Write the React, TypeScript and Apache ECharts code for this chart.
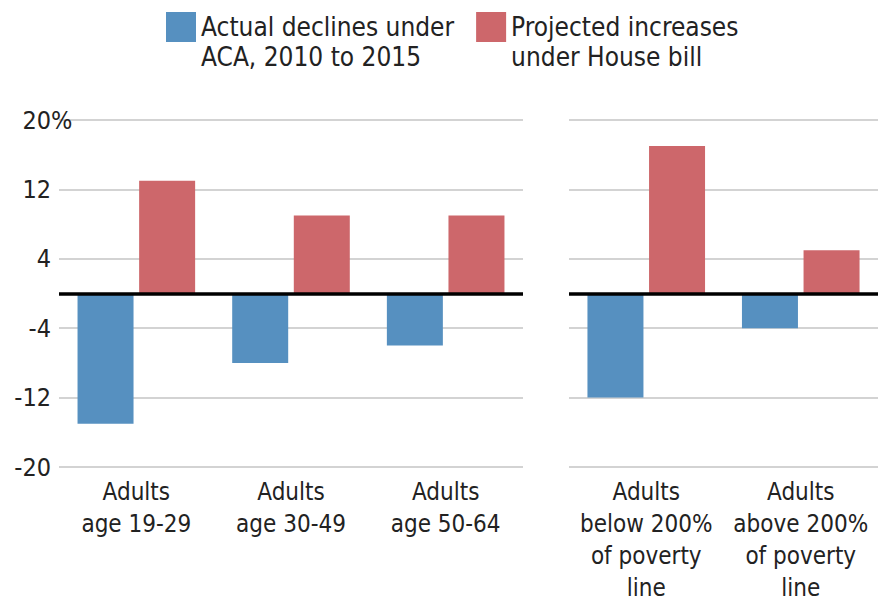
import React, { useEffect, useRef } from "react";
import * as echarts from "echarts";

const ageCategories = ["Adults\nage 19-29", "Adults\nage 30-49", "Adults\nage 50-64"];
const incomeCategories = [
  "Adults\nbelow 200%\nof poverty\nline",
  "Adults\nabove 200%\nof poverty\nline",
];
const ageDeclines = [-15, -8, -6];
const ageIncreases = [13, 9, 9];
const incomeDeclines = [-12, -4];
const incomeIncreases = [17, 5];
const seriesNames = ["Actual declines under\nACA, 2010 to 2015", "Projected increases\nunder House bill"];
const yMin = -20;
const yMax = 20;
const yInterval = 8;

const BLUE = "#5690c0";
const RED = "#cd676b";
const FONT = "'DejaVu Sans Condensed', 'Liberation Sans Narrow', sans-serif";
const TEXT = "#222";

export default function App() {
  const ref = useRef<HTMLDivElement>(null);
  useEffect(() => {
    if (!ref.current) return;
    const chart = echarts.init(ref.current, undefined, { renderer: "svg" });
    const zeroLine = {
      silent: true,
      symbol: "none",
      label: { show: false },
      lineStyle: { color: "#000", width: 3.5, type: "solid" },
      data: [{ yAxis: 0 }],
    };
    const yAxisBase = {
      type: "value",
      min: yMin,
      max: yMax,
      interval: yInterval,
      axisLine: { show: false },
      axisTick: { show: false },
      splitLine: { lineStyle: { color: "#c4c4c4", width: 1.5 } },
    };
    const xAxisBase = {
      type: "category",
      axisLine: { show: false },
      axisTick: { show: false },
      axisLabel: {
        fontFamily: FONT,
        fontSize: 24,
        color: TEXT,
        lineHeight: 32,
        margin: 9,
        interval: 0,
      },
    };
    const barBase = {
      type: "bar",
      barWidth: 56,
      barGap: "10%",
    };
    // square in the top half of a 1x2 box, so the swatch sits beside the first text line
    const legendIcon = "path://M0,0L1,0L1,1L0,1Z M0,2L0.001,2L0,2Z";
    chart.setOption({
      animation: false,
      legend: {
        top: 7,
        left: 161,
        itemWidth: 30,
        itemHeight: 60,
        itemGap: 22,
        icon: legendIcon,
        textStyle: { fontFamily: FONT, fontSize: 26, color: TEXT, lineHeight: 30 },
        data: seriesNames,
      },
      grid: [
        { left: 59, right: 355, top: 120, height: 347, containLabel: false },
        { left: 569, right: 0, top: 120, height: 347, containLabel: false },
      ],
      xAxis: [
        { ...xAxisBase, gridIndex: 0, data: ageCategories },
        { ...xAxisBase, gridIndex: 1, data: incomeCategories },
      ],
      yAxis: [
        {
          ...yAxisBase,
          gridIndex: 0,
          axisLabel: {
            fontFamily: FONT,
            fontSize: 25,
            color: TEXT,
            margin: 8,
            formatter: (v: number) => (v === yMax ? `{n|${v}}{p|%}` : `${v}`),
            rich: {
              n: { align: "left", fontFamily: FONT, fontSize: 25, color: TEXT },
              p: { align: "left", width: 0, fontFamily: FONT, fontSize: 25, color: TEXT },
            },
          },
        },
        { ...yAxisBase, gridIndex: 1, axisLabel: { show: false } },
      ],
      series: [
        {
          ...barBase,
          name: seriesNames[0],
          xAxisIndex: 0,
          yAxisIndex: 0,
          data: ageDeclines,
          itemStyle: { color: BLUE },
        },
        {
          ...barBase,
          name: seriesNames[1],
          xAxisIndex: 0,
          yAxisIndex: 0,
          data: ageIncreases,
          itemStyle: { color: RED },
          markLine: zeroLine,
        },
        {
          ...barBase,
          name: seriesNames[0],
          xAxisIndex: 1,
          yAxisIndex: 1,
          data: incomeDeclines,
          itemStyle: { color: BLUE },
        },
        {
          ...barBase,
          name: seriesNames[1],
          xAxisIndex: 1,
          yAxisIndex: 1,
          data: incomeIncreases,
          itemStyle: { color: RED },
          markLine: zeroLine,
        },
      ],
    });
    return () => chart.dispose();
  }, []);
  return <div ref={ref} style={{ width: 878, height: 605, position: "absolute", left: 0, top: 0 }} />;
}
